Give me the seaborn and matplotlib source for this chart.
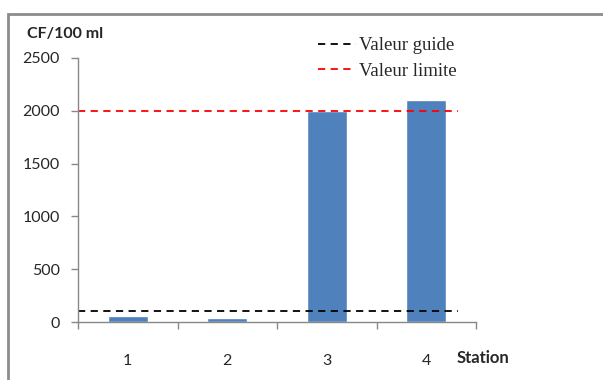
import matplotlib
matplotlib.use("Agg")
import matplotlib.pyplot as plt
from matplotlib.patches import Rectangle
from matplotlib.lines import Line2D
import seaborn as sns
import pandas as pd

stations = ["1", "2", "3", "4"]
cf_counts = [60, 40, 2000, 2100]
valeur_guide = 100
valeur_limite = 2000
y_ticks = [0, 500, 1000, 1500, 2000, 2500]

sns.set_theme(style="white")
plt.rcParams["font.family"] = ["Lato", "DejaVu Sans"]

df = pd.DataFrame({"Station": stations, "CF": cf_counts})

fig = plt.figure(figsize=(6.03, 3.8), dpi=100)
ax = fig.add_axes([78 / 603, 1 - 322 / 380, (476 - 78) / 603, (322 - 58) / 380])

sns.barplot(data=df, x="Station", y="CF", color="#4F81BD", saturation=1,
            width=0.4, ax=ax)

# reference levels
ax.plot([-0.5, 3.32], [valeur_guide, valeur_guide], color="black",
        linestyle=(0, (4, 3)), linewidth=1.3, label="Valeur guide")
ax.plot([-0.5, 3.32], [valeur_limite, valeur_limite], color="red",
        linestyle=(0, (4, 3)), linewidth=1.3, label="Valeur limite")

ax.set_xlim(-0.5, 3.5)
ax.set_ylim(0, 2500)
ax.set_yticks(y_ticks)
ax.set_xticks(range(len(stations)))
ax.set_xticklabels(stations)
ax.set_xticks([-0.5, 0.5, 1.5, 2.5, 3.5], minor=True)
ax.tick_params(axis="x", which="major", length=0, pad=23, labelsize=11.5)
ax.tick_params(axis="x", which="minor", length=5, width=1, color="#888888",
               direction="out", bottom=True)
ax.tick_params(axis="y", length=5, width=1, color="#888888", direction="out",
               left=True, labelsize=11.5, pad=8)
ax.set_xlabel("")
ax.set_ylabel("")
for side in ["top", "right"]:
    ax.spines[side].set_visible(False)
for side in ["left", "bottom"]:
    ax.spines[side].set_color("#888888")
    ax.spines[side].set_linewidth(1)

fig.text(27 / 603, 1 - 34 / 380, "CF/100 ml", fontsize=11.5, fontweight="bold",
         ha="left", va="center")
fig.text(457 / 603, 1 - 358 / 380, "Station", fontsize=12, fontweight="bold",
         ha="left", va="center")

handles = [
    Line2D([], [], color="black", linestyle=(0, (4, 3)), linewidth=1.3),
    Line2D([], [], color="red", linestyle=(0, (4, 3)), linewidth=1.3),
]
fig.legend(handles, ["Valeur guide", "Valeur limite"], loc="upper left",
           bbox_to_anchor=(318 / 603, 1 - 37 / 380), frameon=False,
           prop={"family": "Liberation Serif", "size": 13.5},
           handlelength=2.0, handletextpad=0.2, labelspacing=0.45,
           borderaxespad=0, borderpad=0)

# outer chart frame
fig.patches.append(Rectangle((8 / 603, -0.05), 1.0, 1 - 14 / 380 + 0.05,
                             transform=fig.transFigure, fill=False,
                             edgecolor="#8c8c8c", linewidth=2))

fig.savefig("out.png", dpi=100)
